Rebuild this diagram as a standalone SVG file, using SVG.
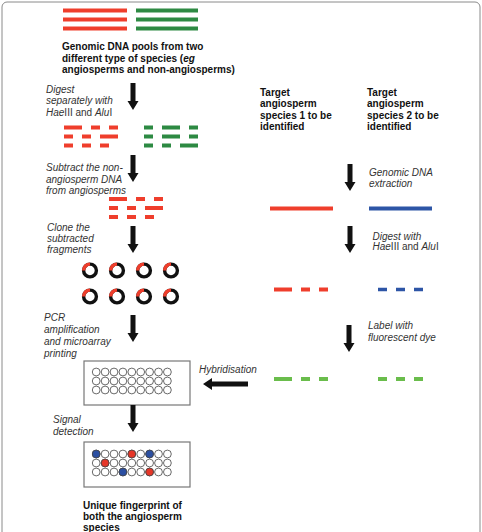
<svg xmlns="http://www.w3.org/2000/svg" xmlns:xlink="http://www.w3.org/1999/xlink" width="482" height="532" viewBox="0 0 482 532">
<style>
.t{font-family:"Liberation Sans",Arial,sans-serif;font-size:10px;font-weight:bold;fill:#111}
.l{font-family:"Liberation Sans",Arial,sans-serif;font-size:10px;font-style:italic;fill:#333}
.u{font-style:normal}
.red{stroke:#ef3e2c;stroke-width:4;fill:none}
.dg{stroke:#2d8a43;stroke-width:4;fill:none}
.lg{stroke:#6abd4c;stroke-width:4;fill:none}
.bl{stroke:#2d55a6;stroke-width:4;fill:none}
.bd{stroke:#2d55a6;stroke-width:3.5;fill:none}
.ring{fill:none;stroke:#111;stroke-width:3.4}
.arc{fill:none;stroke:#ef3e2c;stroke-width:3.4}
.box{fill:#fff;stroke:#777;stroke-width:1.2}
.sp{fill:#fff;stroke:#444;stroke-width:0.8}
.sr{fill:#e63628;stroke:#444;stroke-width:0.8}
.sb{fill:#2b4fa2;stroke:#444;stroke-width:0.8}
.arr{fill:#111}
</style>
<defs>
<path id="va" d="M-2.5,-27 H2.5 V-9 H5.5 L0,0 L-5.5,-9 H-2.5 Z"/>
<g id="clone"><circle r="6.4" class="ring"/><path d="M-6.4,0 A6.4,6.4 0 0 1 0,-6.4" class="arc"/></g>
<g id="row9">
<circle cx="96.2" r="3.9"/><circle cx="105.1" r="3.9"/><circle cx="114" r="3.9"/><circle cx="122.9" r="3.9"/><circle cx="131.8" r="3.9"/><circle cx="140.7" r="3.9"/><circle cx="149.6" r="3.9"/><circle cx="158.5" r="3.9"/><circle cx="167.4" r="3.9"/>
</g>
</defs>
<rect x="2" y="2" width="478" height="545" rx="5" fill="#fff" stroke="#8a8a8a" stroke-width="1"/>

<g id="genomic-pools">
<path class="red" d="M63,10.5H127M63,19.5H127M63,28.5H127"/>
<path class="dg" d="M136,10.5H198M136,19.5H198M136,28.5H198"/>
</g>
<g id="title">
<text class="t" x="62" y="50">Genomic DNA pools from two</text>
<text class="t" x="62" y="61.5">different type of species (<tspan font-style="italic">eg</tspan></text>
<text class="t" x="62" y="73">angiosperms and non-angiosperms)</text>
</g>
<g id="digested">
<path class="red" d="M64,127.5H82M91,127.5H100M109,127.5H118M64,136.5H73M82,136.5H91M100,136.5H118M64,145.5H73M82,145.5H91M100,145.5H109"/>
<path class="dg" d="M144,127.5H153M162,127.5H180M189,127.5H198M144,136.5H153M162,136.5H180M189,136.5H198M144,145.5H153M162,145.5H171M180,145.5H198"/>
</g>
<g id="subtracted">
<path class="red" d="M109,199H127M136,199H145M154,199H163M109,208H118M127,208H136M145,208H163M109,217H118M127,217H136M145,217H154"/>
</g>
<g id="clones">
<use xlink:href="#clone" x="90" y="270.5"/><use xlink:href="#clone" x="117" y="270.5"/><use xlink:href="#clone" x="144" y="270.5"/><use xlink:href="#clone" x="171" y="270.5"/>
<use xlink:href="#clone" x="90" y="296.5"/><use xlink:href="#clone" x="117" y="296.5"/><use xlink:href="#clone" x="144" y="296.5"/><use xlink:href="#clone" x="171" y="296.5"/>
</g>
<g id="microarray">
<rect class="box" x="84" y="361" width="106" height="44"/>
<g class="sp"><use xlink:href="#row9" y="372"/><use xlink:href="#row9" y="381"/><use xlink:href="#row9" y="390"/></g>
</g>
<g id="fingerprint">
<rect class="box" x="84" y="442" width="106" height="45"/>
<g class="sp"><use xlink:href="#row9" y="454"/><use xlink:href="#row9" y="463"/><use xlink:href="#row9" y="472"/></g>
<circle class="sb" cx="96.2" cy="454" r="3.9"/><circle class="sr" cx="131.8" cy="454" r="3.9"/><circle class="sb" cx="149.6" cy="454" r="3.9"/>
<circle class="sr" cx="105.1" cy="463" r="3.9"/>
<circle class="sb" cx="122.9" cy="472" r="3.9"/><circle class="sr" cx="149.6" cy="472" r="3.9"/>
</g>
<g id="result-text">
<text class="t" x="83" y="509">Unique fingerprint of</text>
<text class="t" x="83" y="520">both the angiosperm</text>
<text class="t" x="83" y="531">species</text>
</g>

<g id="target1">
<text class="t" x="260" y="95.5">Target</text>
<text class="t" x="260" y="107">angiosperm</text>
<text class="t" x="260" y="118.5">species 1 to be</text>
<text class="t" x="260" y="130">identified</text>
</g>
<g id="target2">
<text class="t" x="367" y="95.5">Target</text>
<text class="t" x="367" y="107">angiosperm</text>
<text class="t" x="367" y="118.5">species 2 to be</text>
<text class="t" x="367" y="130">identified</text>
</g>
<g id="dna1"><path class="red" d="M270,208.5H333"/></g>
<g id="dna2"><path class="bl" d="M369,208.5H432"/></g>
<g id="frag1"><path class="red" d="M274,289.5H292M301,289.5H310M319,289.5H328"/></g>
<g id="frag2"><path class="bd" d="M378,289.5H387M396,289.5H405M414,289.5H423"/></g>
<g id="label1"><path class="lg" d="M274,379H292M301,379H310M319,379H328"/></g>
<g id="label2"><path class="lg" d="M378,379H387M396,379H405M414,379H423"/></g>

<g id="connectors">
<use class="arr" xlink:href="#va" x="133" y="110"/>
<use class="arr" xlink:href="#va" x="133" y="182"/>
<use class="arr" xlink:href="#va" x="133" y="253"/>
<use class="arr" xlink:href="#va" x="133" y="342"/>
<use class="arr" xlink:href="#va" x="133" y="432"/>
<use class="arr" xlink:href="#va" x="350" y="191"/>
<use class="arr" xlink:href="#va" x="350" y="253"/>
<use class="arr" xlink:href="#va" x="349" y="352"/>
<path class="arr" d="M248,381.5V386.5H212V390L203,384L212,378V381.5Z"/>
<text class="l" x="46" y="92.5">Digest</text>
<text class="l" x="46" y="104">separately with</text>
<text class="l" x="46" y="115.5">Hae<tspan class="u">III and </tspan>Alu<tspan class="u">I</tspan></text>
<text class="l" x="46" y="171">Subtract the non-</text>
<text class="l" x="46" y="182.5">angiosperm DNA</text>
<text class="l" x="46" y="194">from angiosperms</text>
<text class="l" x="47" y="230.5">Clone the</text>
<text class="l" x="47" y="242">subtracted</text>
<text class="l" x="47" y="253">fragments</text>
<text class="l" x="44" y="320.5">PCR</text>
<text class="l" x="44" y="332.5">amplification</text>
<text class="l" x="44" y="344.5">and microarray</text>
<text class="l" x="44" y="356.5">printing</text>
<text class="l" x="53" y="422.5">Signal</text>
<text class="l" x="53" y="434.5">detection</text>
<text class="l" x="369" y="175.5">Genomic DNA</text>
<text class="l" x="369" y="187">extraction</text>
<text class="l" x="372.5" y="239.5">Digest with</text>
<text class="l" x="372.5" y="250">Hae<tspan class="u">III and </tspan>Alu<tspan class="u">I</tspan></text>
<text class="l" x="368" y="329">Label with</text>
<text class="l" x="368" y="340.5">fluorescent dye</text>
<text class="l" x="199" y="373">Hybridisation</text>
</g>
</svg>
